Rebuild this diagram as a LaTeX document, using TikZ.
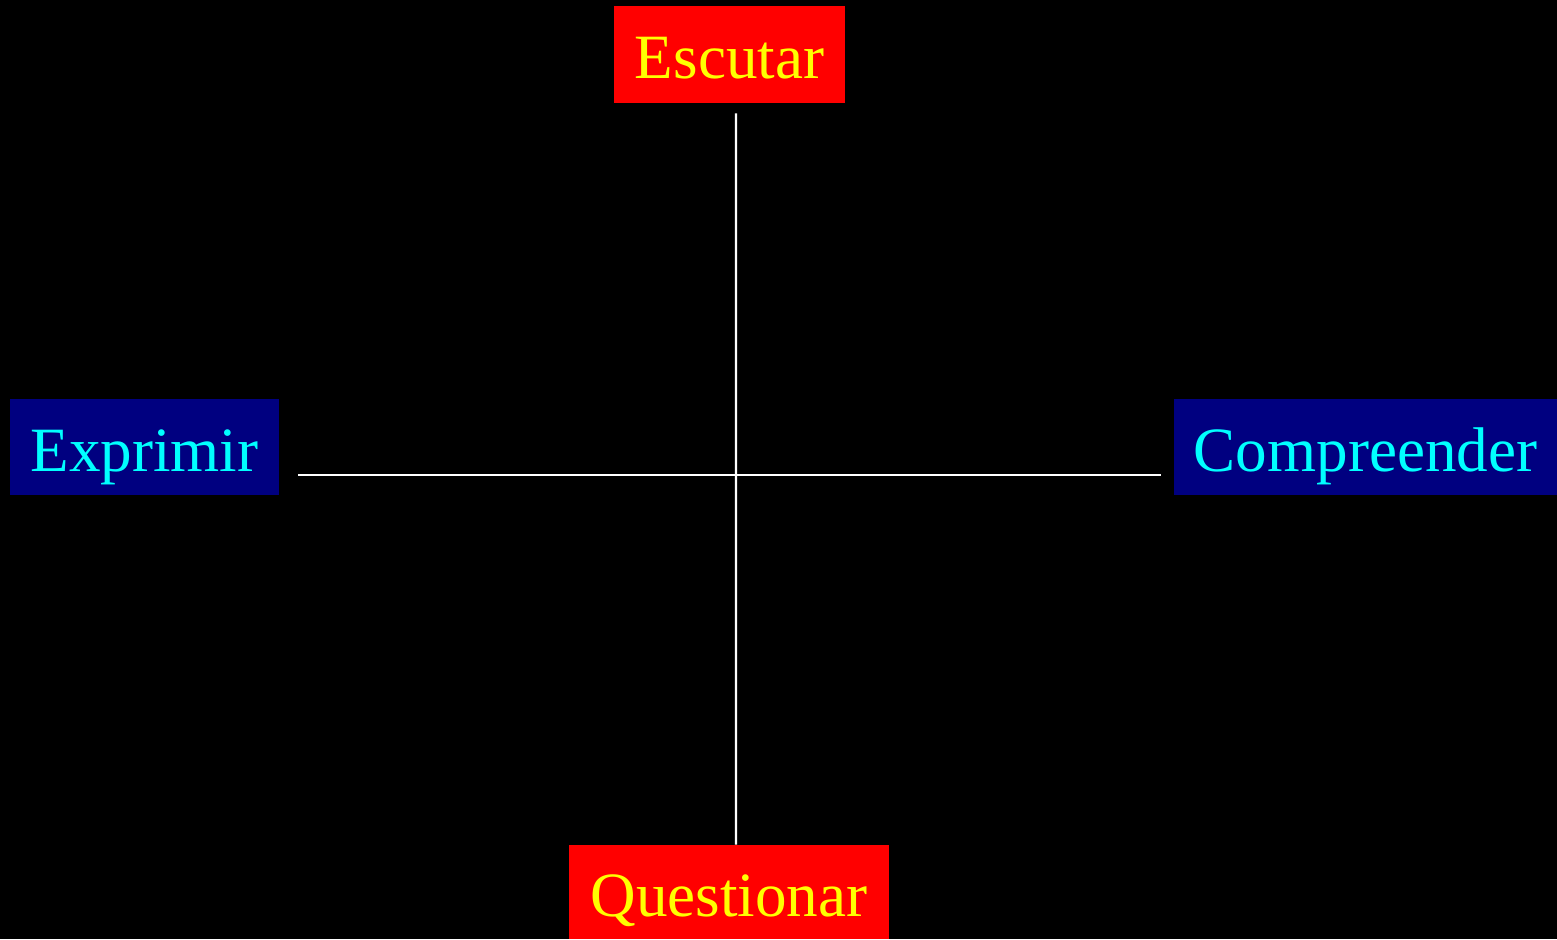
\documentclass[tikz,border=0pt]{standalone}
\usepackage{fontspec}
\setmainfont{Liberation Serif}
\usepackage{tikz}
\usetikzlibrary{calc}

\definecolor{deepnavy}{RGB}{0,0,128}
\definecolor{brightcyan}{RGB}{0,255,255}
\definecolor{brightyellow}{RGB}{255,255,0}

\begin{document}
\begin{tikzpicture}[
	word/.style={inner sep=0pt, text height=27.5pt, text depth=0pt,
		font=\fontsize{35.9}{43}\selectfont, minimum height=1.92cm},
	redbox/.style={word, fill=red, text=brightyellow},
	bluebox/.style={word, fill=deepnavy, text=brightcyan},
	axis/.style={draw=white, line width=1.4pt}
]
	\fill[black] (0,0) rectangle (31.14,18.78);
	% the four poles
	\node[redbox, minimum width=4.62cm, minimum height=1.94cm] (escutar) at (14.59,17.69) {Escutar};
	\node[redbox, minimum width=6.4cm, minimum height=1.88cm] (questionar) at (14.58,0.94) {Questionar};
	\node[bluebox, minimum width=5.38cm] (exprimir) at (2.89,9.84) {Exprimir};
	\node[bluebox, minimum width=7.66cm] (compreender) at (27.31,9.84) {Compreender};
	% the cross
	\draw[axis] ([xshift=0.13cm,yshift=-0.2cm]escutar.south) -- ([xshift=0.14cm]questionar.north);
	\draw[axis] ([xshift=0.38cm,yshift=-0.56cm]exprimir.east) -- ([xshift=-0.26cm,yshift=-0.56cm]compreender.west);
\end{tikzpicture}
\end{document}
